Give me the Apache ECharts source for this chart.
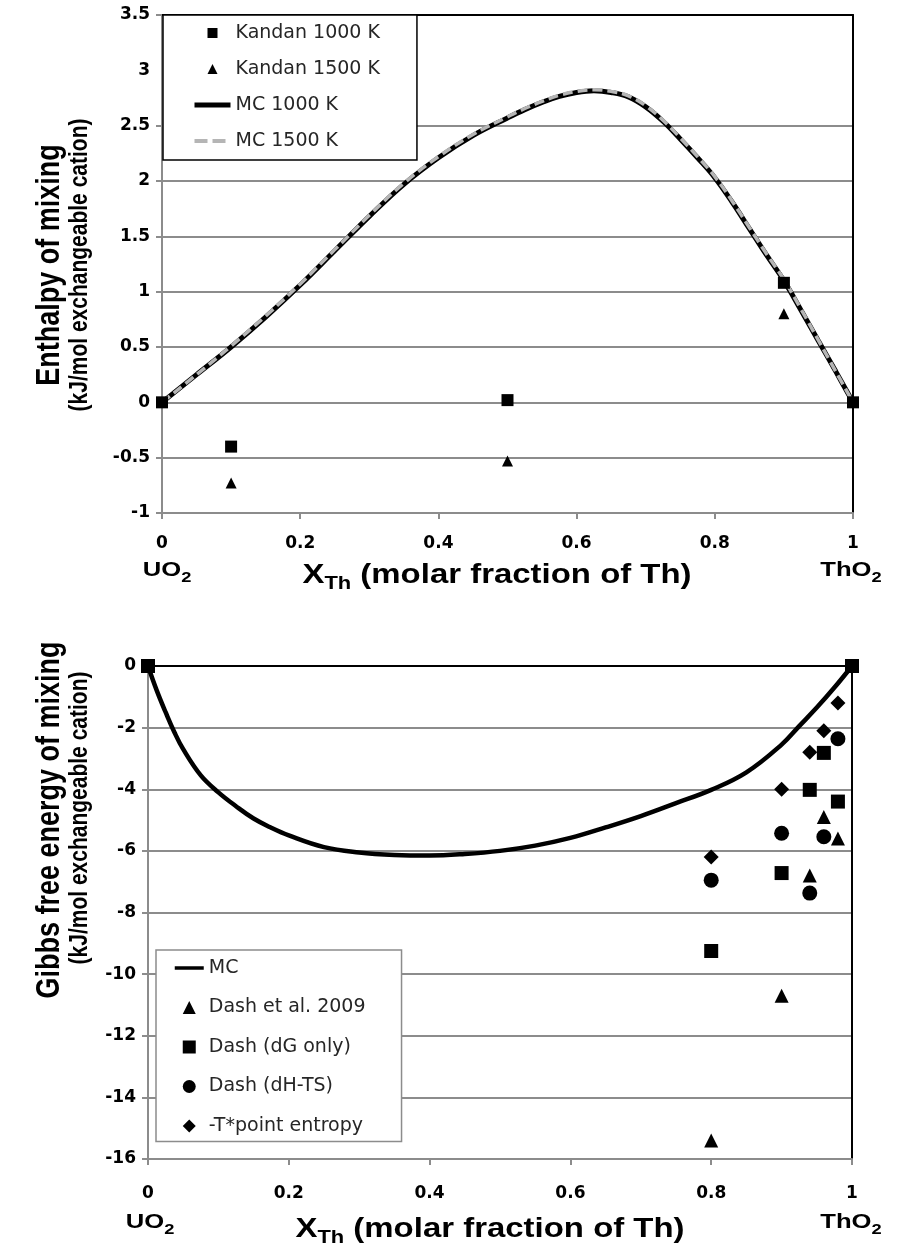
<!DOCTYPE html>
<html><head><meta charset="utf-8">
<script src="https://cdn.jsdelivr.net/npm/echarts@6/dist/echarts.min.js"></script>
<style>html,body{margin:0;padding:0;background:#fff}#c{width:901px;height:1259px}</style>
</head><body><div id="c"></div><script>
// ---------- DATA ----------
// Top chart: enthalpy of mixing
const xK = [0, 0.1, 0.5, 0.9, 1];
const kandan1000 = [0, -0.40, 0.02, 1.08, 0];
const kandan1500 = [0, -0.73, -0.53, 0.80, 0];
const xMC = [0,0.05,0.1,0.15,0.2,0.25,0.3,0.35,0.4,0.45,0.5,0.525,0.55,0.575,0.6,0.625,0.65,0.675,0.7,0.725,0.75,0.775,0.8,0.825,0.85,0.875,0.9,0.925,0.95,0.975,1];
const mc1000 = [0,0.25,0.50,0.77,1.06,1.37,1.68,1.97,2.21,2.41,2.57,2.645,2.71,2.765,2.80,2.815,2.80,2.76,2.67,2.54,2.38,2.21,2.03,1.81,1.57,1.33,1.10,0.83,0.555,0.28,0];
const mc1500 = [0,0.25,0.51,0.78,1.07,1.38,1.69,1.98,2.22,2.42,2.58,2.655,2.72,2.775,2.81,2.825,2.81,2.77,2.68,2.55,2.39,2.22,2.04,1.82,1.58,1.34,1.11,0.84,0.56,0.28,0];
const topXTicks = ['0','0.2','0.4','0.6','0.8','1'];
const topYTicks = ['-1','-0.5','0','0.5','1','1.5','2','2.5','3','3.5'];

// Bottom chart: Gibbs free energy of mixing
const xG = [0,0.0125,0.025,0.0375,0.05,0.075,0.1,0.125,0.15,0.175,0.2,0.25,0.3,0.35,0.4,0.45,0.5,0.55,0.6,0.65,0.7,0.75,0.8,0.85,0.9,0.925,0.95,0.975,1];
const mcG = [0,-0.8,-1.5,-2.15,-2.7,-3.55,-4.1,-4.55,-4.95,-5.25,-5.5,-5.88,-6.05,-6.13,-6.15,-6.1,-6.0,-5.83,-5.58,-5.24,-4.87,-4.45,-4.02,-3.45,-2.55,-1.95,-1.35,-0.7,0];
const xDash = [0.8, 0.9, 0.94, 0.96, 0.98];
const dash2009 = [-15.4, -10.7, -6.8, -4.9, -5.6];
const xDG = [0, 0.8, 0.9, 0.94, 0.96, 0.98, 1];
const dashDG = [0, -9.25, -6.72, -4.02, -2.82, -4.4, 0];
const dashDHTS = [-6.95, -5.43, -7.37, -5.54, -2.36];
const pointEntropy = [-6.2, -4.0, -2.8, -2.1, -1.2];
const botYTicks = ['-16','-14','-12','-10','-8','-6','-4','-2','0'];

// ---------- HELPERS ----------
const FF = '"Liberation Sans", Arial, sans-serif';
const FT = '"DejaVu Sans", sans-serif';
const SX = 1.22; // horizontal stretch of the original picture's text
const pairs = (xs, ys) => xs.map((x, i) => [x, ys[i]]);
const cv = document.createElement('canvas').getContext('2d');
function tw(t, size) { cv.font = 'bold ' + size + 'px ' + FF; return cv.measureText(t).width; }
function subText(cx, top, parts, size, subSize) {
  let total = 0;
  parts.forEach(p => total += tw(p[0], p[1] ? subSize : size) * SX);
  let x = cx - total / 2;
  const els = [];
  parts.forEach(p => {
    const s = p[1] ? subSize : size;
    els.push({ type: 'text', x: x, y: top + (p[1] ? size * 0.5 : 0), z: 100, scaleX: SX,
      style: { text: p[0], fontSize: s, fontWeight: 'bold', fontFamily: FF, fill: '#000',
               textAlign: 'left', textVerticalAlign: 'top' } });
    x += tw(p[0], s) * SX;
  });
  return els;
}
function vText(x, y, text, size) {
  return { type: 'text', x: x, y: y, rotation: Math.PI / 2, z: 100, scaleY: SX,
    style: { text: text, fontSize: size, fontWeight: 'bold', fontFamily: FF, fill: '#000',
             textAlign: 'center', textVerticalAlign: 'middle' } };
}

const GRAY = '#8c8c8c';
const labelStyle = { fontSize: 17, fontWeight: 'bold', color: '#000', fontFamily: FT };
function xBottom(grid, margin) {
  return { type: 'value', gridIndex: grid, min: 0, max: 1, interval: 0.2, position: 'bottom',
    axisLine: { onZero: false, lineStyle: { color: GRAY, width: 2 } },
    axisTick: { show: true, length: 6, lineStyle: { color: GRAY, width: 2 } },
    axisLabel: Object.assign({ margin: margin, formatter: v => topXTicks[Math.round(v / 0.2)] }, labelStyle),
    splitLine: { show: false } };
}
function xTop(grid) {
  return { type: 'value', gridIndex: grid, min: 0, max: 1, position: 'top',
    axisLine: { onZero: false, lineStyle: { color: '#000', width: 2 } },
    axisTick: { show: false }, axisLabel: { show: false }, splitLine: { show: false } };
}
function yRight(grid, min, max) {
  return { type: 'value', gridIndex: grid, min: min, max: max, position: 'right',
    axisLine: { show: true, onZero: false, lineStyle: { color: '#000', width: 2 } },
    axisTick: { show: false }, axisLabel: { show: false }, splitLine: { show: false } };
}
// legend icons (kept square through symbolKeepAspect)
const IC = {
  rect: 'path://M0,0L10,0L10,10L0,10Z',
  tri: 'path://M5,0L10,10L0,10Z',
  circ: 'path://M10,5A5,5,0,1,1,0,5A5,5,0,1,1,10,5Z',
  dia: 'path://M5,0L10,5L5,10L0,5Z'
};
const noSym = { opacity: 0 };

const chart = echarts.init(document.getElementById('c'), null, { renderer: 'canvas' });
const option = {
  animation: false,
  backgroundColor: '#fff',
  grid: [
    { left: 162, top: 15, width: 691, height: 498 },
    { left: 148, top: 666, width: 704, height: 493 }
  ],
  xAxis: [ xBottom(0, 22), xTop(0), xBottom(1, 26), xTop(1) ],
  yAxis: [
    { type: 'value', gridIndex: 0, min: -1, max: 3.5, interval: 0.5, position: 'left',
      axisLine: { show: true, onZero: false, lineStyle: { color: GRAY, width: 2 } },
      axisTick: { show: true, length: 6, lineStyle: { color: GRAY, width: 2 },
                  customValues: [-1, -0.5, 0, 0.5, 1, 1.5, 2, 2.5, 3.5] },
      axisLabel: Object.assign({ margin: 12, formatter: v => topYTicks[Math.round((v + 1) / 0.5)] }, labelStyle),
      splitLine: { show: true, lineStyle: { width: 2,
        color: [GRAY, GRAY, GRAY, GRAY, GRAY, GRAY, GRAY, GRAY, 'rgba(0,0,0,0)', GRAY] } } },
    yRight(0, -1, 3.5),
    { type: 'value', gridIndex: 1, min: -16, max: 0, interval: 2, position: 'left',
      axisLine: { show: true, onZero: false, lineStyle: { color: GRAY, width: 2 } },
      axisTick: { show: true, length: 6, lineStyle: { color: GRAY, width: 2 } },
      axisLabel: Object.assign({ margin: 12, formatter: v => botYTicks[Math.round((v + 16) / 2)] }, labelStyle),
      splitLine: { show: true, lineStyle: { color: GRAY, width: 2 } } },
    yRight(1, -16, 0)
  ],
  legend: [
    { orient: 'vertical', left: 163, top: 15, padding: [8.5, 37, 9.5, 29], itemGap: 17,
      itemWidth: 36, itemHeight: 10, symbolKeepAspect: true,
      backgroundColor: '#fff', borderColor: '#000', borderWidth: 1.5,
      textStyle: { fontSize: 19, color: '#262626', fontFamily: FT },
      data: [ { name: 'Kandan 1000 K', icon: IC.rect },
              { name: 'Kandan 1500 K', icon: IC.tri },
              { name: 'MC 1000 K', itemStyle: noSym, lineStyle: { width: 5, color: '#000' } },
              { name: 'MC 1500 K', itemStyle: noSym, lineStyle: { width: 4, color: '#b5b5b5', type: [13, 5] } } ] },
    { orient: 'vertical', left: 156, top: 950, padding: [8.5, 36, 6, 17], itemGap: 20.5,
      itemWidth: 29, itemHeight: 13, symbolKeepAspect: true,
      backgroundColor: '#fff', borderColor: '#8c8c8c', borderWidth: 1.5,
      textStyle: { fontSize: 19, color: '#262626', fontFamily: FT },
      data: [ { name: 'MC', itemStyle: noSym, lineStyle: { width: 3.5, color: '#000' } },
              { name: 'Dash et al. 2009', icon: IC.tri },
              { name: 'Dash (dG only)', icon: IC.rect },
              { name: 'Dash (dH-TS)', icon: IC.circ },
              { name: '-T*point entropy', icon: IC.dia } ] }
  ],
  series: [
    { name: 'MC 1000 K', type: 'line', xAxisIndex: 0, yAxisIndex: 0, smooth: 0.4, symbol: 'none',
      data: pairs(xMC, mc1000), z: 3, lineStyle: { color: '#000', width: 5 }, itemStyle: { color: '#000' } },
    { name: 'MC 1500 K', type: 'line', xAxisIndex: 0, yAxisIndex: 0, smooth: 0.4, symbol: 'none',
      data: pairs(xMC, mc1500), z: 4, lineStyle: { color: '#b5b5b5', width: 3.5, type: [10, 5] }, itemStyle: { color: '#b5b5b5' } },
    { name: 'Kandan 1000 K', type: 'scatter', xAxisIndex: 0, yAxisIndex: 0, symbol: 'rect', symbolSize: 12,
      data: pairs(xK, kandan1000), z: 5, itemStyle: { color: '#000', opacity: 1 } },
    { name: 'Kandan 1500 K', type: 'scatter', xAxisIndex: 0, yAxisIndex: 0, symbol: 'triangle', symbolSize: 11,
      data: pairs(xK, kandan1500), z: 5, itemStyle: { color: '#000', opacity: 1 } },

    { name: 'MC', type: 'line', xAxisIndex: 2, yAxisIndex: 2, smooth: 0.4, symbol: 'none',
      data: pairs(xG, mcG), z: 3, lineStyle: { color: '#000', width: 4.5 }, itemStyle: { color: '#000' } },
    { name: 'Dash et al. 2009', type: 'scatter', xAxisIndex: 2, yAxisIndex: 2, symbol: 'triangle', symbolSize: 14,
      data: pairs(xDash, dash2009), z: 5, itemStyle: { color: '#000', opacity: 1 } },
    { name: 'Dash (dG only)', type: 'scatter', xAxisIndex: 2, yAxisIndex: 2, symbol: 'rect', symbolSize: 14,
      data: pairs(xDG, dashDG), z: 5, itemStyle: { color: '#000', opacity: 1 } },
    { name: 'Dash (dH-TS)', type: 'scatter', xAxisIndex: 2, yAxisIndex: 2, symbol: 'circle', symbolSize: 15,
      data: pairs(xDash, dashDHTS), z: 5, itemStyle: { color: '#000', opacity: 1 } },
    { name: '-T*point entropy', type: 'scatter', xAxisIndex: 2, yAxisIndex: 2, symbol: 'diamond', symbolSize: 15,
      data: pairs(xDash, pointEntropy), z: 5, itemStyle: { color: '#000', opacity: 1 } }
  ],
  graphic: [].concat(
    [ vText(50, 265, 'Enthalpy of mixing', 27), vText(80, 265, '(kJ/mol exchangeable cation)', 21),
      vText(50, 820, 'Gibbs free energy of mixing', 27), vText(80, 818, '(kJ/mol exchangeable cation)', 21) ],
    subText(497, 562, [['X', false], ['Th', true], [' (molar fraction of Th)', false]], 27, 18),
    subText(167, 560, [['UO', false], ['2', true]], 21, 15),
    subText(851, 560, [['ThO', false], ['2', true]], 21, 15),
    subText(490, 1216, [['X', false], ['Th', true], [' (molar fraction of Th)', false]], 27, 18),
    subText(150, 1212, [['UO', false], ['2', true]], 21, 15),
    subText(851, 1212, [['ThO', false], ['2', true]], 21, 15)
  )
};
chart.setOption(option);
</script></body></html>
